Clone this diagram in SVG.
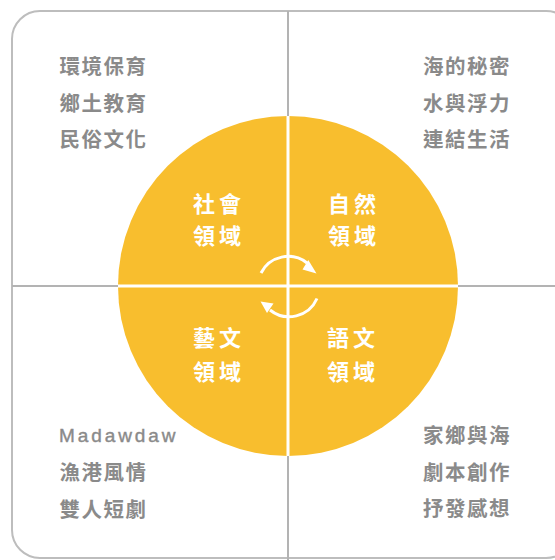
<svg xmlns="http://www.w3.org/2000/svg" width="555" height="560" viewBox="0 0 555 560">
<style>
.frame{fill:none;stroke:#bdbdbd;stroke-width:2}
.grid{stroke:#b3b3b3;stroke-width:2}
.inner{stroke:#ffffff;stroke-width:3}
.t{font-family:"Noto Sans CJK TC","Liberation Sans",sans-serif;font-size:20.5px;font-weight:600;fill:#8a8a8a;letter-spacing:1.5px}
.m{font-family:"Liberation Sans",sans-serif;font-size:19px;font-weight:400;fill:#8a8a8a;letter-spacing:2.9px;stroke:#8a8a8a;stroke-width:0.4px}
.c{font-family:"Noto Sans CJK TC",sans-serif;font-size:22px;font-weight:700;fill:#ffffff;letter-spacing:4px}
.arc{fill:none;stroke:#ffffff;stroke-width:3}
.head{fill:#ffffff}
</style>
<rect class="frame" x="12" y="11" width="562" height="547" rx="28" ry="28"/>
<line class="grid" x1="288" y1="11" x2="288" y2="560"/>
<line class="grid" x1="12" y1="286" x2="555" y2="286"/>
<circle id="circle" cx="288" cy="286" r="170" fill="#F8BE2E"/>
<line class="inner" x1="118" y1="286" x2="458" y2="286"/>
<line class="inner" x1="288" y1="116" x2="288" y2="456"/>
<g id="tl">
<text class="t" x="59.5" y="74">環境保育</text>
<text class="t" x="59.5" y="110.5">鄉土教育</text>
<text class="t" x="59.5" y="147">民俗文化</text>
</g>
<g id="tr">
<text class="t" x="423" y="74">海的秘密</text>
<text class="t" x="423" y="110.5">水與浮力</text>
<text class="t" x="423" y="147">連結生活</text>
</g>
<g id="bl">
<text class="m" x="59" y="442">Madawdaw</text>
<text class="t" x="59.5" y="480">漁港風情</text>
<text class="t" x="59.5" y="516.5">雙人短劇</text>
</g>
<g id="br">
<text class="t" x="423" y="443">家鄉與海</text>
<text class="t" x="423" y="479.5">劇本創作</text>
<text class="t" x="423" y="515.5">抒發感想</text>
</g>
<g id="social">
<text class="c" x="193" y="212">社會</text>
<text class="c" x="193" y="243.5">領域</text>
</g>
<g id="nature">
<text class="c" x="328" y="212">自然</text>
<text class="c" x="328" y="243.5">領域</text>
</g>
<g id="arts">
<text class="c" x="193" y="345.5">藝文</text>
<text class="c" x="193" y="379.5">領域</text>
</g>
<g id="language">
<text class="c" x="327" y="345.5">語文</text>
<text class="c" x="327" y="379.5">領域</text>
</g>
<g id="connectors">
<path class="arc" d="M 261 273 A 30.5 30.5 0 0 1 307 263"/>
<polygon class="head" points="308.3,260 316.5,273.5 302.5,269.5"/>
<path class="arc" d="M 317 298.5 A 30.5 30.5 0 0 1 270 310"/>
<polygon class="head" points="260.5,301.5 273.5,303.5 267,313"/>
</g>
</svg>
